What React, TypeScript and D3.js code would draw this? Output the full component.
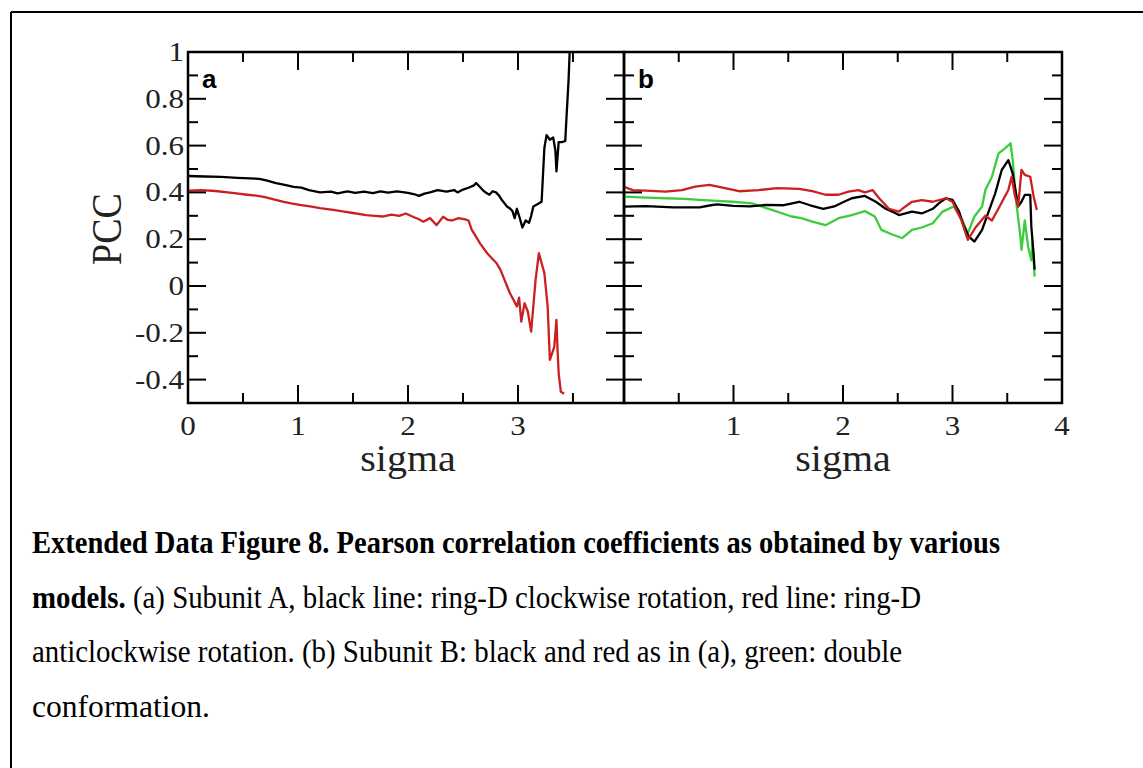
import React from "react";
import * as d3 from "d3";

// ---------- data (sigma, PCC) ----------
const aBlack: [number, number][] = [
  [0, 0.47], [0.15, 0.468], [0.3, 0.466], [0.45, 0.462], [0.65, 0.458], [0.72, 0.45], [0.8, 0.44],
  [0.88, 0.432], [0.96, 0.424], [1.03, 0.42], [1.1, 0.41], [1.2, 0.4], [1.3, 0.403], [1.36, 0.396],
  [1.45, 0.404], [1.52, 0.398], [1.6, 0.403], [1.68, 0.397], [1.75, 0.404], [1.82, 0.399], [1.9, 0.404],
  [2.0, 0.398], [2.06, 0.392], [2.1, 0.385], [2.15, 0.395], [2.2, 0.4], [2.27, 0.41], [2.35, 0.403],
  [2.42, 0.41], [2.45, 0.4], [2.5, 0.412], [2.55, 0.42], [2.6, 0.43], [2.62, 0.44], [2.65, 0.425],
  [2.68, 0.41], [2.71, 0.398], [2.74, 0.39], [2.77, 0.405], [2.8, 0.4], [2.83, 0.385], [2.85, 0.37],
  [2.88, 0.352], [2.9, 0.34], [2.93, 0.33], [2.95, 0.32], [2.97, 0.29], [2.99, 0.33], [3.01, 0.3],
  [3.04, 0.25], [3.07, 0.28], [3.1, 0.27], [3.12, 0.3], [3.14, 0.34], [3.18, 0.35], [3.215, 0.36],
  [3.24, 0.59], [3.26, 0.645], [3.29, 0.625], [3.32, 0.635], [3.34, 0.58], [3.35, 0.49], [3.37, 0.615],
  [3.4, 0.615], [3.43, 0.62], [3.44, 0.71], [3.46, 0.88], [3.47, 1.0], [3.48, 1.05],
];
const aRed: [number, number][] = [
  [0, 0.408], [0.12, 0.41], [0.25, 0.406], [0.4, 0.398], [0.54, 0.39], [0.62, 0.386], [0.7, 0.38],
  [0.78, 0.37], [0.87, 0.36], [0.95, 0.352], [1.03, 0.346], [1.11, 0.34], [1.2, 0.333], [1.32, 0.325],
  [1.42, 0.318], [1.5, 0.312], [1.62, 0.303], [1.7, 0.3], [1.77, 0.297], [1.85, 0.305], [1.92, 0.3],
  [1.98, 0.31], [2.05, 0.295], [2.1, 0.285], [2.14, 0.275], [2.2, 0.29], [2.26, 0.26], [2.32, 0.296],
  [2.36, 0.283], [2.4, 0.28], [2.46, 0.29], [2.52, 0.285], [2.55, 0.28], [2.58, 0.24], [2.62, 0.21],
  [2.655, 0.182], [2.72, 0.14], [2.76, 0.12], [2.806, 0.097], [2.84, 0.07], [2.866, 0.04], [2.9, 0.0],
  [2.927, -0.031], [2.96, -0.06], [2.99, -0.088], [3.01, -0.05], [3.03, -0.152], [3.06, -0.073],
  [3.09, -0.11], [3.12, -0.195], [3.16, 0.026], [3.19, 0.14], [3.24, 0.055], [3.27, -0.088],
  [3.29, -0.316], [3.33, -0.26], [3.35, -0.145], [3.36, -0.275], [3.37, -0.373], [3.39, -0.452],
  [3.42, -0.46],
];
const bBlack: [number, number][] = [
  [0, 0.339], [0.2, 0.341], [0.45, 0.336], [0.69, 0.336], [0.78, 0.344], [0.85, 0.349], [1.0, 0.342],
  [1.15, 0.34], [1.3, 0.347], [1.45, 0.345], [1.6, 0.36], [1.7, 0.345], [1.82, 0.33], [1.92, 0.34],
  [2.0, 0.358], [2.08, 0.375], [2.2, 0.385], [2.3, 0.36], [2.39, 0.33], [2.45, 0.318], [2.51, 0.303],
  [2.57, 0.31], [2.63, 0.318], [2.72, 0.31], [2.82, 0.33], [2.88, 0.355], [2.94, 0.375], [3.0, 0.368],
  [3.06, 0.318], [3.1, 0.26], [3.15, 0.211], [3.2, 0.19], [3.27, 0.24], [3.33, 0.318], [3.39, 0.396],
  [3.45, 0.496], [3.51, 0.538], [3.55, 0.48], [3.6, 0.34], [3.63, 0.36], [3.66, 0.389], [3.71, 0.389],
  [3.72, 0.253], [3.74, 0.14], [3.75, 0.07],
];
const bRed: [number, number][] = [
  [0, 0.424], [0.08, 0.41], [0.2, 0.408], [0.38, 0.403], [0.53, 0.41], [0.65, 0.425], [0.78, 0.432],
  [0.9, 0.42], [1.05, 0.405], [1.23, 0.41], [1.4, 0.418], [1.6, 0.415], [1.72, 0.405], [1.84, 0.39],
  [1.96, 0.39], [2.05, 0.403], [2.14, 0.41], [2.2, 0.4], [2.27, 0.41], [2.33, 0.375], [2.42, 0.33],
  [2.51, 0.318], [2.57, 0.34], [2.63, 0.36], [2.72, 0.367], [2.82, 0.36], [2.94, 0.375], [3.0, 0.36],
  [3.08, 0.282], [3.14, 0.197], [3.21, 0.25], [3.3, 0.3], [3.36, 0.28], [3.43, 0.34], [3.51, 0.41],
  [3.54, 0.467], [3.57, 0.385], [3.6, 0.34], [3.63, 0.496], [3.66, 0.475], [3.71, 0.467], [3.74, 0.385],
  [3.77, 0.325],
];
const bGreen: [number, number][] = [
  [0, 0.382], [0.2, 0.378], [0.38, 0.375], [0.55, 0.372], [0.69, 0.368], [0.85, 0.364], [0.99, 0.36],
  [1.17, 0.353], [1.35, 0.325], [1.53, 0.297], [1.62, 0.29], [1.72, 0.275], [1.84, 0.26], [1.96, 0.29],
  [2.08, 0.303], [2.2, 0.32], [2.29, 0.297], [2.35, 0.24], [2.45, 0.22], [2.54, 0.205], [2.63, 0.24],
  [2.72, 0.25], [2.82, 0.268], [2.91, 0.318], [3.01, 0.34], [3.09, 0.282], [3.14, 0.225], [3.2, 0.297],
  [3.27, 0.34], [3.3, 0.41], [3.36, 0.467], [3.42, 0.567], [3.48, 0.588], [3.53, 0.61], [3.55, 0.538],
  [3.58, 0.368], [3.62, 0.211], [3.63, 0.154], [3.66, 0.28], [3.69, 0.17], [3.72, 0.11], [3.73, 0.19],
  [3.74, 0.12], [3.75, 0.04],
];

const yTickValues = [1, 0.8, 0.6, 0.4, 0.2, 0, -0.2, -0.4];
const yTickLabels = ["1", "0.8", "0.6", "0.4", "0.2", "0", "-0.2", "-0.4"];
const aXTickLabels = ["0", "1", "2", "3"];
const bXTickLabels = ["1", "2", "3", "4"];

const captionLines = [
  [{ t: "Extended Data Figure 8. Pearson correlation coefficients as obtained by various", b: true }],
  [
    { t: "models.", b: true },
    { t: " (a) Subunit A, black line: ring-D clockwise rotation, red line: ring-D", b: false },
  ],
  [{ t: "anticlockwise rotation. (b) Subunit B: black and red as in (a), green: double", b: false }],
  [{ t: "conformation.", b: false }],
];
const captionWidths = [968, 889, 870, 178];

// ---------- layout ----------
const W = 1143;
const H = 768;
const top = 52;
const bottom = 403;
const aLeft = 188;
const mid = 624;
const bRight = 1062;
const SERIF = "Liberation Serif, Times New Roman, serif";
const SANS = "Liberation Sans, Arial, sans-serif";
const RED = "#cc1f1f";
const GREEN = "#3dcc3d";
const SX = 1.15;

const y = d3.scaleLinear().domain([-0.5, 1]).range([bottom, top]);
const xa = d3.scaleLinear().domain([0, 3.964]).range([aLeft, mid]);
const xb = d3.scaleLinear().domain([0, 4]).range([mid, bRight]);

function Panel({ x, lines, xLabels, xLabelVals, showY, letter }: any) {
  const [x0, x1] = x.range();
  const maxX = x.domain()[1];
  const majX = d3.range(1, maxX - 0.01, 1);
  const minX = d3.range(0.5, maxX, 1);
  const majY = [-0.4, -0.2, 0, 0.2, 0.4, 0.6, 0.8];
  const minY = [-0.3, -0.1, 0.1, 0.3, 0.5, 0.7, 0.9];
  const MJ = 18;
  const MN = 10;
  const line = d3
    .line<[number, number]>()
    .x((d) => x(d[0]))
    .y((d) => y(d[1]));
  return (
    <g>
      <defs>
        <clipPath id={`clip-${letter}`}>
          <rect x={x0} y={top} width={x1 - x0} height={bottom - top} />
        </clipPath>
      </defs>
      <g clipPath={`url(#clip-${letter})`}>
        {lines.map((l: any, i: number) => (
          <path key={i} d={line(l.data) || ""} fill="none" stroke={l.color} strokeWidth={2.3} strokeLinejoin="round" />
        ))}
      </g>
      {majX.map((v) => (
        <g key={"mx" + v}>
          <line x1={x(v)} x2={x(v)} y1={bottom} y2={bottom - MJ} stroke="#000" strokeWidth={2} />
          <line x1={x(v)} x2={x(v)} y1={top} y2={top + MJ} stroke="#000" strokeWidth={2} />
        </g>
      ))}
      {minX.map((v) => (
        <g key={"nx" + v}>
          <line x1={x(v)} x2={x(v)} y1={bottom} y2={bottom - MN} stroke="#000" strokeWidth={2} />
          <line x1={x(v)} x2={x(v)} y1={top} y2={top + MN} stroke="#000" strokeWidth={2} />
        </g>
      ))}
      {majY.map((v) => (
        <g key={"my" + v}>
          <line x1={x0} x2={x0 + MJ} y1={y(v)} y2={y(v)} stroke="#000" strokeWidth={2} />
          <line x1={x1} x2={x1 - MJ} y1={y(v)} y2={y(v)} stroke="#000" strokeWidth={2} />
        </g>
      ))}
      {minY.map((v) => (
        <g key={"ny" + v}>
          <line x1={x0} x2={x0 + MN} y1={y(v)} y2={y(v)} stroke="#000" strokeWidth={2} />
          <line x1={x1} x2={x1 - MN} y1={y(v)} y2={y(v)} stroke="#000" strokeWidth={2} />
        </g>
      ))}
      <rect x={x0} y={top} width={x1 - x0} height={bottom - top} fill="none" stroke="#000" strokeWidth={2.5} />
      {xLabelVals.map((v: number, i: number) => (
        <text
          key={"xl" + i}
          transform={`translate(${x(v)},${bottom + 32}) scale(${SX},1)`}
          textAnchor="middle"
          fontFamily={SERIF}
          fontSize={27}
          fill="#222"
        >
          {xLabels[i]}
        </text>
      ))}
      {showY &&
        yTickValues.map((v, i) => (
          <text
            key={"yl" + i}
            transform={`translate(${x0 - 4},${y(v) + 9}) scale(${SX},1)`}
            textAnchor="end"
            fontFamily={SERIF}
            fontSize={27}
            fill="#222"
          >
            {yTickLabels[i]}
          </text>
        ))}
      <text
        transform={`translate(${x(2)},${bottom + 68}) scale(1.08,1)`}
        textAnchor="middle"
        fontFamily={SERIF}
        fontSize={37}
        fill="#222"
      >
        sigma
      </text>
      <text x={x0 + 14} y={88} fontFamily={SANS} fontWeight="bold" fontSize={26} fill="#000">
        {letter}
      </text>
    </g>
  );
}

export default function App() {
  return (
    <svg width={W} height={H} style={{ position: "absolute", left: 0, top: 0, background: "#fff" }}>
      <rect x={0} y={0} width={W} height={H} fill="#fff" />
      <line x1={11} x2={W} y1={12} y2={12} stroke="#000" strokeWidth={2} />
      <line x1={11} x2={11} y1={12} y2={H} stroke="#000" strokeWidth={2} />
      <Panel
        x={xa}
        letter="a"
        showY
        xLabels={aXTickLabels}
        xLabelVals={[0, 1, 2, 3]}
        lines={[
          { data: aBlack, color: "#000" },
          { data: aRed, color: RED },
        ]}
      />
      <Panel
        x={xb}
        letter="b"
        xLabels={bXTickLabels}
        xLabelVals={[1, 2, 3, 4]}
        lines={[
          { data: bGreen, color: GREEN },
          { data: bBlack, color: "#000" },
          { data: bRed, color: RED },
        ]}
      />
      <text
        transform={`translate(121,229) scale(1.1,1) rotate(-90)`}
        textAnchor="middle"
        fontFamily={SERIF}
        fontSize={38}
        fill="#222"
      >
        PCC
      </text>
      {captionLines.map((ln, i) => (
        <text
          key={i}
          x={32}
          y={553 + i * 54.5}
          fontFamily={SERIF}
          fontSize={32}
          fill="#000"
          textLength={captionWidths[i]}
          lengthAdjust="spacingAndGlyphs"
        >
          {ln.map((s, j) => (
            <tspan key={j} fontWeight={s.b ? "bold" : "normal"}>
              {s.t}
            </tspan>
          ))}
        </text>
      ))}
    </svg>
  );
}
